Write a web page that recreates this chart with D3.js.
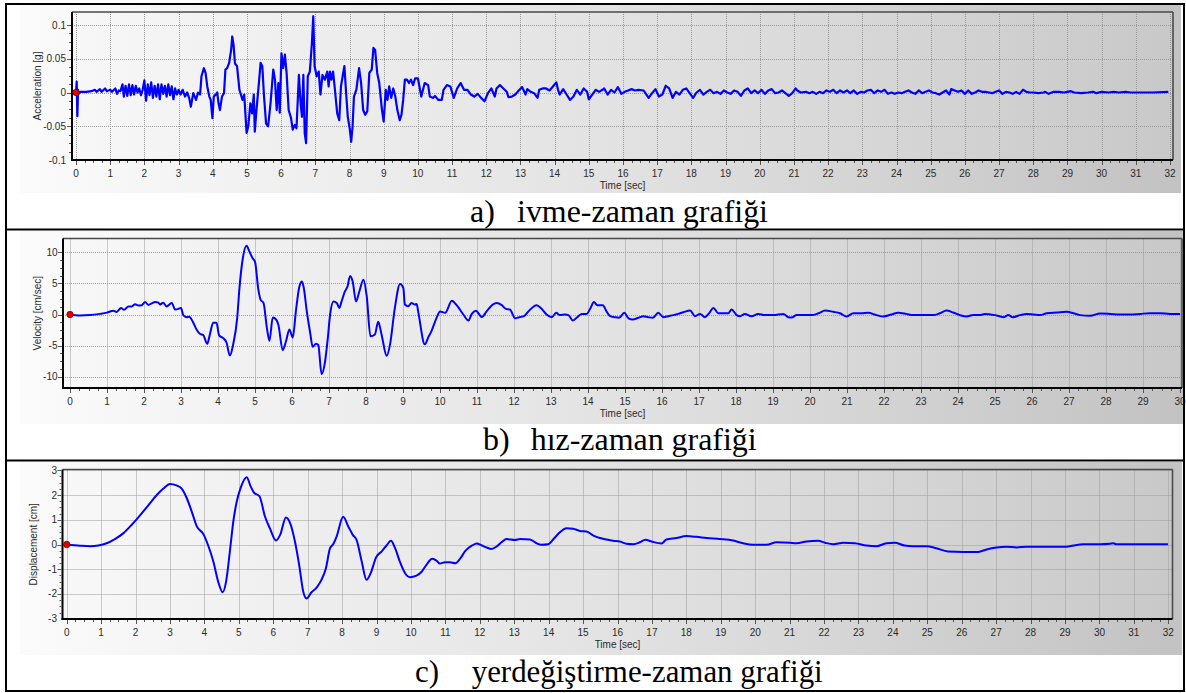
<!DOCTYPE html>
<html><head><meta charset="utf-8">
<script src="https://cdn.jsdelivr.net/npm/d3@7"></script>
<style>html,body{margin:0;padding:0;background:#fff;}svg{display:block;}</style>
</head><body>
<script>
// ---------------- DATA ----------------
const accTime = [0,0.02,0.04,0.06,0.08,0.12,0.3,0.45,0.55,0.6,0.7,0.75,0.85,0.9,1.0,1.05,1.15,1.2,1.25,1.3,1.36,1.4,1.45,1.5,1.55,1.6,1.65,1.7,1.75,1.8,1.85,1.9,1.95,2.0,2.05,2.1,2.15,2.2,2.25,2.3,2.35,2.4,2.45,2.5,2.55,2.6,2.65,2.7,2.75,2.8,2.85,2.9,2.95,3.0,3.06,3.12,3.19,3.25,3.31,3.36,3.43,3.51,3.57,3.63,3.67,3.74,3.79,3.84,3.9,3.94,3.99,4.03,4.09,4.13,4.17,4.21,4.27,4.33,4.37,4.42,4.48,4.54,4.57,4.61,4.65,4.71,4.78,4.87,4.92,4.99,5.04,5.1,5.15,5.2,5.23,5.28,5.35,5.4,5.45,5.5,5.56,5.62,5.69,5.77,5.82,5.87,5.92,5.96,6.01,6.06,6.11,6.16,6.22,6.29,6.34,6.4,6.45,6.52,6.57,6.61,6.65,6.69,6.73,6.78,6.84,6.9,6.94,6.98,7.04,7.1,7.15,7.21,7.28,7.35,7.39,7.43,7.47,7.52,7.57,7.64,7.7,7.75,7.8,7.85,7.9,7.95,8.01,8.05,8.09,8.13,8.2,8.28,8.34,8.4,8.46,8.52,8.58,8.65,8.7,8.75,8.81,8.87,8.95,9.0,9.06,9.11,9.16,9.22,9.28,9.34,9.4,9.47,9.52,9.57,9.62,9.68,9.74,9.8,9.86,9.92,10.0,10.1,10.2,10.3,10.35,10.45,10.5,10.6,10.7,10.75,10.85,10.95,11.05,11.15,11.25,11.35,11.45,11.55,11.65,11.75,11.85,11.95,12.05,12.15,12.25,12.3,12.4,12.5,12.6,12.65,12.75,12.85,12.95,13.05,13.15,13.2,13.3,13.4,13.5,13.55,13.65,13.75,13.85,13.95,14.05,14.1,14.15,14.25,14.35,14.45,14.55,14.65,14.75,14.85,14.95,15.0,15.1,15.2,15.3,15.4,15.45,15.55,15.65,15.75,15.85,15.95,16.05,16.15,16.25,16.35,16.45,16.6,16.75,16.85,16.95,17.05,17.15,17.25,17.35,17.45,17.55,17.65,17.75,17.85,17.95,18.05,18.15,18.25,18.35,18.45,18.55,18.65,18.75,18.85,18.95,19.05,19.15,19.25,19.35,19.45,19.55,19.65,19.75,19.85,19.95,20.05,20.15,20.25,20.35,20.45,20.55,20.65,20.75,20.85,20.95,21.05,21.1,21.2,21.35,21.45,21.55,21.65,21.75,21.85,21.95,22.05,22.15,22.25,22.35,22.45,22.55,22.65,22.75,22.85,22.95,23.05,23.15,23.25,23.35,23.45,23.55,23.65,23.75,23.85,23.95,24.05,24.15,24.25,24.35,24.45,24.55,24.65,24.75,24.85,24.95,25.05,25.15,25.25,25.35,25.45,25.55,25.6,25.7,25.8,25.9,26.0,26.1,26.2,26.3,26.4,26.5,26.6,26.7,26.8,26.9,27.0,27.1,27.2,27.3,27.4,27.5,27.6,27.7,27.8,27.9,28.0,28.15,28.3,28.35,28.45,28.6,28.75,28.9,29.0,29.1,29.2,29.4,29.6,29.75,29.85,30.0,30.2,30.35,30.5,30.7,30.85,31.0,31.5,31.95];
const accValue = [0,0.016,-0.035,0.004,-0.002,0.001,0.001,0.002,0.004,0.001,0.005,0.001,0.006,0.002,0.004,0.001,0.006,-0.002,0.003,0.002,0.012,-0.006,0.010,-0.005,0.012,-0.004,0.011,-0.003,0.010,0.000,0.006,-0.004,0.004,0.018,-0.012,0.012,-0.004,0.015,-0.008,0.010,-0.006,0.012,-0.010,0.012,-0.002,0.010,-0.006,0.012,-0.004,0.009,-0.010,0.006,-0.003,0.004,-0.003,0.004,-0.006,0.0,-0.008,-0.021,-0.001,-0.011,0.0,-0.003,0.024,0.036,0.029,0.009,-0.006,-0.011,-0.038,-0.006,-0.003,0.0,-0.016,-0.026,-0.006,-0.001,0.034,0.036,0.044,0.064,0.083,0.07,0.043,0.039,0.004,-0.011,-0.003,-0.060,-0.050,-0.016,-0.031,-0.003,-0.058,-0.025,0.014,0.044,0.039,-0.006,-0.046,-0.050,-0.016,0.034,0.019,-0.026,0.014,-0.030,0.058,0.036,0.056,0.029,-0.026,-0.038,-0.055,-0.048,-0.053,0.026,-0.016,-0.036,0.026,-0.060,-0.075,0.024,0.031,0.073,0.113,0.039,0.024,0.031,-0.003,0.026,0.019,0.031,0.009,0.031,0.019,0.031,0.006,-0.031,-0.041,0.009,0.024,0.039,0.0,-0.036,-0.055,-0.073,-0.050,-0.006,0.004,0.036,0.014,-0.026,-0.033,-0.028,0.029,0.034,0.066,0.063,0.029,0.014,-0.026,-0.043,0.004,-0.011,0.009,-0.008,0.006,-0.006,-0.026,-0.041,-0.033,-0.011,0.019,0.019,0.014,0.019,0.011,0.021,0.021,-0.006,0.014,0.011,-0.006,-0.008,-0.005,-0.011,-0.011,0.004,0.011,0.009,-0.008,0.006,0.014,0.004,0.004,-0.003,-0.006,-0.002,-0.008,-0.013,-0.001,0.006,-0.006,0.006,0.011,0.006,0.001,-0.007,-0.006,-0.003,0.003,0.008,-0.003,0.005,0.001,-0.001,-0.008,0.004,0.006,0.006,0.003,0.009,0.015,0.004,-0.003,0.005,-0.003,-0.011,-0.006,0.004,-0.003,0.006,0.001,-0.010,-0.003,0.004,0.001,0.004,0.006,-0.003,0.004,0.0,0.008,-0.002,0.001,0.003,0.005,0.003,0.004,0.003,-0.008,-0.001,0.005,-0.006,-0.003,0.010,0.006,-0.008,0.001,-0.003,0.004,0.006,-0.001,-0.008,0.0,0.004,-0.003,0.001,0.004,-0.001,0.001,-0.002,0.003,0.0,-0.002,0.003,0.001,-0.005,0.003,0.006,-0.001,0.003,-0.001,0.004,-0.002,0.003,0.005,-0.001,0.0,0.003,-0.001,-0.005,-0.001,0.006,0.003,0.0,0.001,-0.001,0.001,-0.002,0.001,-0.001,0.003,0.001,0.004,-0.001,0.003,0.0,0.003,-0.001,0.003,-0.002,0.001,0.0,0.003,0.004,-0.001,0.003,0.001,0.004,-0.002,0.0,-0.002,0.0,-0.001,0.001,0.003,0.0,-0.002,0.003,-0.001,0.001,0.003,0.0,-0.001,-0.003,0.0,0.003,-0.003,0.005,0.003,0.001,0.003,-0.002,0.003,-0.002,0.0,0.003,0.001,0.001,0.0,-0.001,0.001,0.003,-0.002,0.001,0.0,-0.002,0.001,-0.002,0.004,0.001,0.0,0.0,-0.001,0.0,0.001,-0.002,0.001,0.001,0.0,0.001,0.002,0.0,-0.001,0.0,0.001,-0.001,0.001,0.0,0.001,0.0,0.001,0.0,0.0,0.0,0.001];

const velTime = [0,0.27,0.54,0.81,1.0,1.17,1.26,1.38,1.46,1.58,1.67,1.76,1.85,1.94,2.03,2.12,2.21,2.3,2.39,2.43,2.52,2.61,2.75,2.84,2.93,3.0,3.06,3.15,3.22,3.32,3.42,3.51,3.6,3.71,3.78,3.87,3.96,4.03,4.14,4.23,4.32,4.41,4.52,4.58,4.67,4.77,4.85,4.94,5.0,5.09,5.15,5.23,5.32,5.39,5.48,5.57,5.63,5.75,5.84,5.93,6.02,6.11,6.2,6.27,6.32,6.4,6.49,6.56,6.65,6.71,6.8,6.89,6.96,7.03,7.12,7.21,7.28,7.34,7.43,7.5,7.57,7.64,7.73,7.82,7.93,8.02,8.12,8.24,8.33,8.42,8.56,8.65,8.78,8.92,9.01,9.05,9.14,9.23,9.32,9.37,9.41,9.59,9.68,9.77,9.91,10.0,10.14,10.32,10.45,10.63,10.77,10.86,10.97,11.13,11.26,11.37,11.53,11.67,11.78,11.89,12.03,12.14,12.27,12.39,12.61,12.74,12.88,13.02,13.14,13.24,13.38,13.47,13.59,13.69,13.83,13.96,14.07,14.16,14.25,14.4,14.5,14.6,14.72,14.84,14.98,15.1,15.21,15.36,15.5,15.63,15.75,15.9,16.04,16.17,16.31,16.44,16.58,16.76,16.89,17.03,17.16,17.28,17.39,17.52,17.79,17.88,18.02,18.11,18.24,18.42,18.6,18.78,19.01,19.28,19.41,19.5,19.64,19.86,20.05,20.23,20.41,20.63,20.81,20.99,21.17,21.39,21.57,21.8,21.98,22.2,22.38,22.6,22.79,23.06,23.33,23.51,23.69,23.87,24.05,24.23,24.41,24.59,24.73,25.0,25.23,25.36,25.48,25.68,25.86,26.04,26.22,26.4,26.67,26.94,27.12,27.3,27.57,27.84,28.11,28.38,28.65,28.92,29.19,29.46,29.73,30.0];
const velValue = [0,-0.16,-0.1,0.1,0.3,0.6,0.4,1.06,0.75,1.3,1.3,1.65,1.44,1.5,2.0,1.54,1.8,2.0,1.9,1.6,1.9,1.3,1.86,0.8,0.9,1.06,-0.1,-0.43,-0.37,-1.17,-2.4,-3.1,-3.3,-4.7,-3.2,-1.33,-1.33,-3.35,-3.8,-4.5,-6.6,-4.8,-0.5,4.25,9.0,11.06,10.1,9.0,8.5,4.0,2.4,1.86,-2.1,-4.25,-0.5,-0.8,-1.6,-5.75,-4.25,-2.4,-3.7,0.8,4.5,5.3,4.25,0.5,-2.9,-5.2,-4.7,-4.9,-9.6,-7.7,-4.25,0.0,2.1,1.86,1.06,2.1,3.7,4.5,6.2,5.3,2.1,3.7,5.6,2.9,-3.5,-3.2,-1.17,-3.2,-6.65,-4.8,1.06,4.9,4.25,1.6,1.33,1.86,1.6,1.7,0.5,-4.8,-3.7,-2.66,-0.5,0.5,0.27,2.2,1.5,0.0,-0.96,0.1,0.6,-0.4,0.5,1.3,1.86,1.5,0.9,0.8,-0.6,-0.43,-0.27,0.5,1.5,0.96,0.0,-0.43,0.27,-0.1,0.0,-0.1,-0.96,-0.53,0.1,0.1,1.06,2.0,1.5,1.5,0.5,-0.27,-0.43,-0.53,0.27,-0.64,-0.8,-0.53,-0.27,-0.43,-0.53,0.27,-0.43,-0.27,-0.1,0.1,0.37,0.64,-0.27,0.1,-0.43,0.27,1.06,0.2,0.2,0.8,-0.1,-0.27,0.1,-0.27,0.1,-0.1,-0.1,0.1,-0.43,-0.5,-0.1,-0.1,-0.1,0.2,0.64,0.43,0.2,-0.32,0.2,0.2,0.27,-0.1,-0.32,0.0,0.27,0.1,-0.1,-0.1,-0.1,0.2,0.64,0.32,-0.1,-0.32,-0.1,-0.1,0.1,-0.1,-0.43,-0.1,-0.43,-0.1,0.1,0.0,-0.1,0.2,0.32,0.43,0.2,-0.1,-0.2,0.16,0.1,0.0,0.0,0.1,0.2,0.2,0.1,0.1];

const dispTime = [0,0.39,0.68,0.92,1.16,1.4,1.65,1.89,2.13,2.37,2.61,2.81,3.0,3.19,3.34,3.48,3.63,3.78,3.97,4.11,4.26,4.4,4.53,4.63,4.74,4.84,4.94,5.05,5.23,5.34,5.44,5.6,5.76,5.9,6.08,6.2,6.37,6.49,6.63,6.76,6.87,6.97,7.11,7.26,7.4,7.53,7.65,7.74,7.84,8.03,8.18,8.31,8.42,8.57,8.71,8.83,8.99,9.15,9.29,9.42,9.54,9.68,9.83,9.97,10.16,10.31,10.46,10.62,10.75,10.84,10.99,11.13,11.29,11.44,11.58,11.78,11.91,12.06,12.2,12.34,12.49,12.63,12.78,13.02,13.17,13.46,13.65,13.79,13.99,14.13,14.33,14.52,14.71,14.91,15.1,15.3,15.49,15.68,15.87,16.07,16.26,16.46,16.65,16.81,16.99,17.28,17.42,17.71,18.0,18.29,18.59,18.97,19.36,19.65,19.94,20.33,20.62,21.01,21.2,21.49,21.83,22.03,22.27,22.56,22.9,23.23,23.52,23.81,24.05,24.34,24.59,24.98,25.26,25.6,26.04,26.48,26.72,27.01,27.3,27.59,27.88,28.36,29.04,29.24,29.53,30.01,30.3,30.4,30.49,30.97,31.99];
const dispValue = [0,-0.05,-0.07,-0.04,0.05,0.22,0.46,0.80,1.18,1.58,1.99,2.26,2.45,2.39,2.26,1.90,1.34,0.73,0.42,-0.04,-0.69,-1.50,-1.93,-1.50,-0.28,0.93,1.74,2.28,2.72,2.36,2.10,1.95,1.13,0.66,0.16,0.39,1.09,0.86,0.12,-0.89,-1.90,-2.18,-1.93,-1.74,-1.43,-0.96,-0.15,0.01,0.32,1.12,0.73,0.39,0.19,-0.69,-1.43,-1.16,-0.51,-0.28,-0.04,0.15,-0.15,-0.70,-1.16,-1.32,-1.26,-1.10,-0.80,-0.58,-0.66,-0.77,-0.72,-0.72,-0.76,-0.55,-0.26,-0.04,0.04,-0.04,-0.12,-0.18,-0.08,0.09,0.22,0.18,0.22,0.20,0.05,-0.01,0.01,0.20,0.50,0.66,0.64,0.55,0.53,0.36,0.26,0.20,0.15,0.12,0.03,0.01,0.09,0.19,0.12,0.04,0.20,0.26,0.34,0.31,0.26,0.22,0.16,0.05,-0.01,-0.01,0.09,0.07,0.05,0.12,0.15,0.07,0.01,0.07,0.05,-0.04,-0.07,0.05,0.07,-0.04,-0.07,-0.07,-0.15,-0.28,-0.30,-0.30,-0.20,-0.12,-0.09,-0.12,-0.09,-0.09,-0.09,-0.04,0.01,0.01,0.03,0.05,0.01,0.01,0.01];

const accTicks = [-0.1, -0.05, 0, 0.05, 0.1];
const accTickLabels = ["-0.1", "-0.05", "0", "0.05", "0.1"];
const velTicks = [-10, -5, 0, 5, 10];
const velTickLabels = ["-10", "-5", "0", "5", "10"];
const dispTicks = [-3, -2, -1, 0, 1, 2, 3];
const dispTickLabels = ["-3", "-2", "-1", "0", "1", "2", "3"];

const yTitles = ["Acceleration [g]", "Velocity [cm/sec]", "Displacement [cm]"];
const xTitle = "Time [sec]";
const captionLetters = ["a)", "b)", "c)"];
const captionTexts = ["ivme-zaman grafiği", "hız-zaman grafiği", "yerdeğiştirme-zaman grafiği"];
const timeMax = [32, 30, 32];

// ---------------- LAYOUT ----------------
const W = 1186, H = 693;
const svg = d3.select("body").append("svg").attr("width", W).attr("height", H);
const defs = svg.append("defs");
const bg = defs.append("linearGradient").attr("id", "bgGrad").attr("gradientUnits", "userSpaceOnUse")
  .attr("x1", 20).attr("x2", 1184).attr("y1", 0).attr("y2", 0);
bg.append("stop").attr("offset", 0).attr("stop-color", "#fbfbfb");
bg.append("stop").attr("offset", 0.5).attr("stop-color", "#e3e3e3");
bg.append("stop").attr("offset", 1).attr("stop-color", "#c2c2c2");
const pg = defs.append("linearGradient").attr("id", "plotGrad").attr("gradientUnits", "userSpaceOnUse")
  .attr("x1", 60).attr("x2", 1184).attr("y1", 0).attr("y2", 0);
pg.append("stop").attr("offset", 0).attr("stop-color", "#f8f8f8");
pg.append("stop").attr("offset", 0.5).attr("stop-color", "#e2e2e2");
pg.append("stop").attr("offset", 1).attr("stop-color", "#c8c8c8");

const panels = [
  { time: accTime, value: accValue, ticks: accTicks, labels: accTickLabels, yDomain: [-0.1, 0.1],
    img: {x: 20, y: 5, w: 1161, h: 188},
    frame: {l: 72, t: 12, r: 1173, b: 160}, xr: [76, 1170], yr: [160, 25],
    labelX: 66, titleX: 37, xLabY: 177, xTitleY: 189, lw: 2.2,
    cap: {px: 470, tx: 517, tw: 251, y: 222, fs: 32}, curve: d3.curveLinear, minorY: 0.0125 },
  { time: velTime, value: velValue, ticks: velTicks, labels: velTickLabels, yDomain: [-10, 10],
    img: {x: 20, y: 231, w: 1164, h: 193},
    frame: {l: 63, t: 238.5, r: 1182, b: 388}, xr: [70, 1180], yr: [376.7, 252.3],
    labelX: 57.5, titleX: 37, xLabY: 405, xTitleY: 417, lw: 2,
    cap: {px: 483, tx: 530.7, tw: 226, y: 450, fs: 32}, curve: d3.curveMonotoneX, minorY: 1.25 },
  { time: dispTime, value: dispValue, ticks: dispTicks, labels: dispTickLabels, yDomain: [-3, 3],
    img: {x: 20, y: 462, w: 1162, h: 193},
    frame: {l: 62.5, t: 469.5, r: 1172.5, b: 619}, xr: [66.7, 1168.3], yr: [618.7, 470.3],
    labelX: 57, titleX: 33, xLabY: 636, xTitleY: 648, lw: 2,
    cap: {px: 415, tx: 471.7, tw: 351, y: 682, fs: 31}, curve: d3.curveMonotoneX, minorY: 0.25 }
];

panels.forEach((p, i) => {
  const g = svg.append("g");
  const f = p.frame;
  g.append("rect").attr("x", p.img.x).attr("y", p.img.y).attr("width", p.img.w).attr("height", p.img.h)
    .attr("fill", "url(#bgGrad)");
  g.append("rect").attr("x", f.l).attr("y", f.t).attr("width", f.r - f.l).attr("height", f.b - f.t)
    .attr("fill", "url(#plotGrad)");

  const x = d3.scaleLinear().domain([0, timeMax[i]]).range(p.xr);
  const y = d3.scaleLinear().domain(p.yDomain).range(p.yr);
  const xt = d3.range(0, timeMax[i] + 1);

  // grid
  const grid = g.append("g").attr("stroke", "#9a9a9a").attr("stroke-width", 1).attr("stroke-dasharray", "1,1");
  xt.forEach(t => grid.append("line").attr("x1", Math.round(x(t)) + 0.5).attr("x2", Math.round(x(t)) + 0.5)
    .attr("y1", f.t).attr("y2", f.b));
  p.ticks.forEach(v => grid.append("line").attr("x1", f.l).attr("x2", f.r)
    .attr("y1", Math.round(y(v)) + 0.5).attr("y2", Math.round(y(v)) + 0.5));

  // frame
  g.append("line").attr("x1", f.l).attr("x2", f.r).attr("y1", f.t).attr("y2", f.t).attr("stroke", "#4a4a4a").attr("stroke-width", 1.6);
  g.append("line").attr("x1", f.r).attr("x2", f.r).attr("y1", f.t).attr("y2", f.b).attr("stroke", "#4a4a4a").attr("stroke-width", 1.6);
  g.append("line").attr("x1", f.l).attr("x2", f.l).attr("y1", f.t).attr("y2", f.b + 1).attr("stroke", "#000").attr("stroke-width", 2);
  g.append("line").attr("x1", f.l - 1).attr("x2", f.r).attr("y1", f.b).attr("y2", f.b).attr("stroke", "#000").attr("stroke-width", 2);

  // ticks
  const tk = g.append("g").attr("stroke", "#555").attr("stroke-width", 1);
  d3.range(0, timeMax[i] * 4 + 1).forEach(k => {
    const t = k / 4, xx = Math.round(x(t)) + 0.5;
    tk.append("line").attr("x1", xx).attr("x2", xx).attr("y1", f.b + 1).attr("y2", f.b + (k % 4 === 0 ? 5 : 3));
  });
  const [y0, y1] = p.yDomain;
  const nMinor = Math.round((y1 - y0) / p.minorY);
  d3.range(0, nMinor + 1).forEach(k => {
    const v = y0 + k * p.minorY, yy = Math.round(y(v)) + 0.5;
    if (yy < f.t || yy > f.b) return;
    tk.append("line").attr("x1", f.l - 1).attr("x2", f.l - (k % 4 === 0 ? 5 : 3)).attr("y1", yy).attr("y2", yy);
  });

  // tick labels
  const lab = g.append("g").attr("font-family", "'Liberation Sans', Arial, sans-serif").attr("font-size", 10).attr("fill", "#2a2a2a");
  xt.forEach(t => lab.append("text").attr("x", x(t)).attr("y", p.xLabY).attr("text-anchor", "middle").text(String(t)));
  p.ticks.forEach((v, j) => lab.append("text").attr("x", p.labelX).attr("y", y(v)).attr("dy", "0.35em")
    .attr("text-anchor", "end").text(p.labels[j]));
  lab.append("text").attr("x", (f.l + f.r) / 2).attr("y", p.xTitleY).attr("text-anchor", "middle").text(xTitle);
  lab.append("text").attr("transform", `translate(${p.titleX},${(f.t + f.b) / 2}) rotate(-90)`)
    .attr("text-anchor", "middle").attr("dy", "0.35em").text(yTitles[i]);

  // data line
  const pts = p.time.map((t, j) => [t, p.value[j]]);
  g.append("path").datum(pts)
    .attr("d", d3.line().x(d => x(d[0])).y(d => y(d[1])).curve(p.curve))
    .attr("fill", "none").attr("stroke", "#0000ff").attr("stroke-width", p.lw).attr("stroke-linejoin", "round");

  g.append("circle").attr("cx", x(0)).attr("cy", y(0)).attr("r", 3.2)
    .attr("fill", "#e00000").attr("stroke", "#700").attr("stroke-width", 0.8);

  // caption
  const cap = g.append("g").attr("font-family", "'Liberation Serif', 'Times New Roman', serif").attr("font-size", p.cap.fs).attr("fill", "#000");
  cap.append("text").attr("x", p.cap.px).attr("y", p.cap.y).text(captionLetters[i]);
  cap.append("text").attr("x", p.cap.tx).attr("y", p.cap.y).attr("textLength", p.cap.tw)
    .attr("lengthAdjust", "spacingAndGlyphs").text(captionTexts[i]);
});

// table borders
const bd = svg.append("g").attr("stroke", "#000").attr("stroke-width", 2).attr("fill", "none");
bd.append("rect").attr("x", 6).attr("y", 4).attr("width", 1178).attr("height", 687);
bd.append("line").attr("x1", 6).attr("x2", 1184).attr("y1", 229.5).attr("y2", 229.5);
bd.append("line").attr("x1", 6).attr("x2", 1184).attr("y1", 460.5).attr("y2", 460.5);
</script>
</body></html>
